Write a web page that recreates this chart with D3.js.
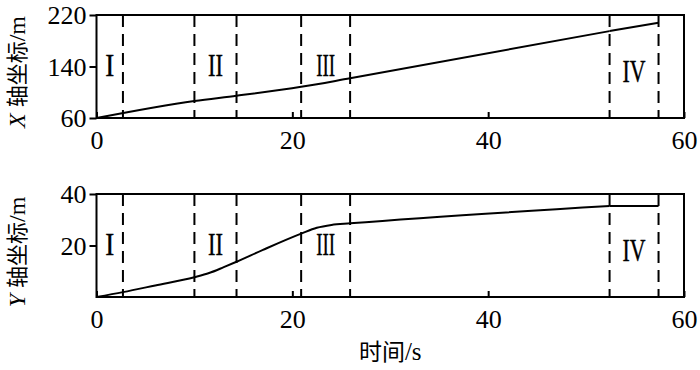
<!DOCTYPE html>
<html>
<head>
<meta charset="utf-8">
<script src="https://cdn.jsdelivr.net/npm/d3@7/dist/d3.min.js"></script>
<style>
  html, body { margin: 0; padding: 0; background: #fff; }
  svg { display: block; }
  .serif { font-family: "Liberation Serif", "DejaVu Serif", "Times New Roman", serif; }
  .cjk { font-family: "Noto Sans CJK SC", "Liberation Serif", serif; }
</style>
</head>
<body>
<svg id="chart" width="700" height="370"></svg>
<script>
// ---- data ----
const timeTicks = [0, 20, 40, 60];
const xCoordTicks = [60, 140, 220];
const yCoordTicks = [20, 40];
const stageBounds = [2.7, 10, 14.3, 20.9, 25.9, 52.4, 57.4];
const stageNames = ["I", "II", "III", "IV"];
const stageStarts = [0, 10, 20.9, 52.4];
const stageEnds = [2.7, 14.3, 25.9, 57.4];

const tX = [0, 10, 14.3, 20.9, 25.9, 52.4, 57.4];
const xCoord = [60, 86.5, 94.6, 108.4, 121.6, 195, 208];

const tY = [0, 2.7, 6, 10, 11.5, 13, 14.3, 17, 20.9, 22.5, 24, 25.9, 52.4, 57.4];
const yCoord = [0, 1.9, 4.5, 7.7, 9.3, 11.6, 13.7, 18.3, 24.6, 26.9, 28.0, 28.6, 35.3, 35.3];

// ---- layout ----
const svg = d3.select("#chart");
const left = 96.5, right = 684;

const x = d3.scaleLinear().domain([0, 60]).range([left, right]);

const panels = [
  { top: 15, bottom: 118, domain: [60, 220], ticks: xCoordTicks, t: tX, v: xCoord,
    axisLetter: "X", labelCenter: 72 },
  { top: 194, bottom: 297, domain: [0, 40], ticks: yCoordTicks, t: tY, v: yCoord,
    axisLetter: "Y", labelCenter: 252 }
];

panels.forEach((p, pi) => {
  const y = d3.scaleLinear().domain(p.domain).range([p.bottom, p.top]);
  const g = svg.append("g");

  // left axis
  const ay = g.append("g").attr("transform", `translate(${left},0)`)
    .call(d3.axisLeft(y).tickValues(p.ticks).tickSize(7).tickPadding(3).tickFormat(d3.format("d")));
  ay.attr("font-family", null).attr("font-size", null);
  ay.select(".domain").remove();
  ay.selectAll("line").attr("stroke", "#000").attr("stroke-width", 2);
  ay.selectAll("text").attr("class", "serif").style("font-size", "26px")
    .attr("fill", "#000").attr("dy", "0.34em");

  // bottom axis (inward ticks)
  const ax = g.append("g").attr("transform", `translate(0,${p.bottom})`)
    .call(d3.axisBottom(x).tickValues(timeTicks).tickSize(-6).tickPadding(12).tickFormat(d3.format("d")));
  ax.attr("font-family", null).attr("font-size", null);
  ax.select(".domain").remove();
  ax.selectAll("line").attr("stroke", "#000").attr("stroke-width", 2);
  ax.selectAll("text").attr("class", "serif").style("font-size", "26px")
    .attr("fill", "#000").attr("dy", "0.72em");

  // dashed stage boundaries
  g.selectAll("line.stage").data(stageBounds).join("line")
    .attr("class", "stage")
    .attr("x1", d => x(d)).attr("x2", d => x(d))
    .attr("y1", p.top).attr("y2", p.bottom)
    .attr("stroke", "#000").attr("stroke-width", 2)
    .attr("stroke-dasharray", "12,7");

  // frame
  g.append("rect").attr("x", left).attr("y", p.top)
    .attr("width", right - left).attr("height", p.bottom - p.top)
    .attr("fill", "none").attr("stroke", "#000").attr("stroke-width", 2);

  // data line: smooth part up to the start of stage IV, straight within stage IV
  const pts = p.t.map((t, i) => [t, p.v[i]]);
  const split = pts.findIndex(d => d[0] >= stageStarts[3]);
  const smooth = d3.line().x(d => x(d[0])).y(d => y(d[1])).curve(d3.curveMonotoneX);
  const straight = d3.line().x(d => x(d[0])).y(d => y(d[1]));
  g.append("path").datum(pts.slice(0, split + 1))
    .attr("d", smooth).attr("fill", "none").attr("stroke", "#000").attr("stroke-width", 2);
  g.append("path").datum(pts.slice(split))
    .attr("d", straight).attr("fill", "none").attr("stroke", "#000").attr("stroke-width", 2);

  // stage labels
  const widths = [9, 15, 19, 23];
  stageNames.forEach((s, i) => {
    const cx = x((stageStarts[i] + stageEnds[i]) / 2);
    const base = p.top + (i === 3 ? 67 : 61);
    g.append("text").attr("class", "serif").attr("x", cx - widths[i] / 2).attr("y", base)
      .style("font-size", "31px")
      .attr("stroke", "#000").attr("stroke-width", 0.4)
      .attr("textLength", widths[i]).attr("lengthAdjust", "spacingAndGlyphs")
      .text(s);
  });

  // y-axis title
  const tt = g.append("text")
    .attr("transform", `translate(25,${p.labelCenter}) rotate(-90)`)
    .attr("text-anchor", "middle").style("font-size", "24px").attr("fill", "#000");
  tt.append("tspan").attr("class", "serif").style("font-style", "italic").text(p.axisLetter + " ");
  tt.append("tspan").attr("class", "cjk").style("font-size", "22px").text("轴坐标");
  tt.append("tspan").attr("class", "serif").text("/m");
});

// x-axis title
const xt = svg.append("text").attr("x", (left + right) / 2).attr("y", 360)
  .attr("text-anchor", "middle").style("font-size", "25px").attr("fill", "#000");
xt.append("tspan").attr("class", "cjk").style("font-size", "23px").text("时间");
xt.append("tspan").attr("class", "serif").text("/s");
</script>
</body>
</html>
